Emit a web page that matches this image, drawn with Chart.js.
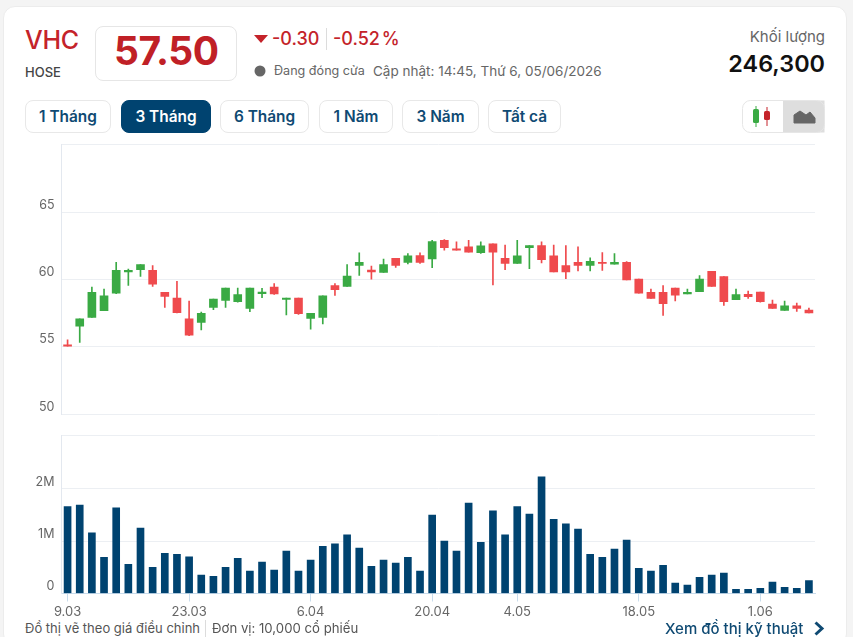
<!DOCTYPE html>
<html lang="vi">
<head>
<meta charset="utf-8">
<title>VHC</title>
<script src="https://cdn.jsdelivr.net/npm/chart.js@4"></script>
<style>
html, body { margin: 0; padding: 0; width: 853px; height: 637px; overflow: hidden; background: #f4f4f4; font-family: Inter, sans-serif; }
.card { position: absolute; left: 3px; top: 6px; width: 844px; height: 640px; background: #fff; border: 1px solid #ececec; border-radius: 12px; box-sizing: border-box; }
.txt { position: absolute; white-space: nowrap; line-height: 1; }
.box { position: absolute; left: 95px; top: 26px; width: 142px; height: 55px; border: 1px solid #e6e6e6; border-radius: 8px; box-sizing: border-box; }
.btn { position: absolute; top: 100px; height: 33px; line-height: 31px; text-align: center; box-sizing: border-box; border: 1px solid #e8e8e8; border-radius: 8px; font-size: 15.4px; font-weight: 600; color: #0f4a73; }
.btn.on { background: #004370; border-color: #004370; color: #fff; }
.sep { position: absolute; background: #dcdcdc; width: 1px; }
canvas { position: absolute; left: 0; display: block; }
</style>
</head>
<body>
<div class="card"></div>

<div class="txt" style="left:25px;top:28px;font-size:25px;font-weight:500;color:#c4232a;letter-spacing:-0.3px">VHC</div>
<div class="txt" style="left:25px;top:66px;font-size:13px;font-weight:500;color:#444">HOSE</div>
<div class="box"></div>
<div class="txt" style="left:114px;top:31px;font-size:39px;font-weight:700;color:#c02026;letter-spacing:-0.4px">57.50</div>

<svg style="position:absolute;left:254px;top:35px" width="14" height="9"><path d="M0 0H14L7 8Z" fill="#c4232a"/></svg>
<div class="txt" style="left:272px;top:30px;font-size:18px;font-weight:500;color:#c4232a">-0.30</div>
<div class="sep" style="left:326px;top:28px;height:22px"></div>
<div class="txt" style="left:333px;top:30px;font-size:18px;font-weight:500;color:#c4232a;word-spacing:-3px">-0.52 %</div>

<svg style="position:absolute;left:254px;top:65px" width="12" height="12"><circle cx="6" cy="6" r="5.5" fill="#666"/></svg>
<div class="txt" style="left:274px;top:65px;font-size:12.6px;color:#666">Đang đóng cửa</div>
<div class="txt" style="left:373px;top:65px;font-size:13.5px;color:#666">Cập nhật: 14:45, Thứ 6, 05/06/2026</div>

<div class="txt" style="right:28px;top:29px;font-size:15px;color:#666">Khối lượng</div>
<div class="txt" style="right:28px;top:52px;font-size:23.4px;font-weight:600;color:#111">246,300</div>

<div class="btn" style="left:25px;width:86px">1 Tháng</div>
<div class="btn on" style="left:121px;width:90px">3 Tháng</div>
<div class="btn" style="left:220px;width:89px">6 Tháng</div>
<div class="btn" style="left:319px;width:74px">1 Năm</div>
<div class="btn" style="left:402px;width:77px">3 Năm</div>
<div class="btn" style="left:488px;width:73px">Tất cả</div>

<svg style="position:absolute;left:742px;top:100px" width="83" height="33">
  <rect x="41" y="0.5" width="41.5" height="32" fill="#dedede"/>
  <rect x="0.5" y="0.5" width="82" height="32" rx="8" fill="none" stroke="#e6e6e6"/>
  <path d="M14 6V27" stroke="#3aaa44"/><rect x="11" y="9" width="6" height="14" rx="1.5" fill="#3aaa44"/>
  <path d="M25 7V26" stroke="#c4232a"/><rect x="22" y="11" width="6" height="9" rx="1.5" fill="#c4232a"/>
  <path d="M52 23V15L58 11L64 15L68 12L73 18V23Z" fill="#666" stroke="#666" stroke-linejoin="round"/>
</svg>

<canvas id="priceChart" width="853" height="290" style="top:130px"></canvas>
<canvas id="volChart" width="853" height="195" style="top:425px"></canvas>

<div class="txt" style="left:25px;top:622px;font-size:13px;color:#555">Đồ thị vẽ theo giá điều chỉnh</div>
<div class="sep" style="left:205px;top:620px;height:17px"></div>
<div class="txt" style="left:212px;top:622px;font-size:13.2px;color:#555">Đơn vị: 10,000 cổ phiếu</div>
<div class="txt" style="left:665px;top:621px;font-size:15px;font-weight:500;color:#0f4a73">Xem đồ thị kỹ thuật</div>
<svg style="position:absolute;left:813px;top:621px" width="12" height="15"><path d="M2.5 1.5L9 7.5L2.5 13.5" fill="none" stroke="#0f4a73" stroke-width="3"/></svg>

<script>
// Ngày giao dịch
var dates = ['9.03','10.03','11.03','12.03','13.03','16.03','17.03','18.03','19.03','20.03',
    '23.03','24.03','25.03','26.03','27.03','30.03','31.03','1.04','2.04','3.04',
    '6.04','7.04','8.04','9.04','10.04','13.04','14.04','15.04','16.04','17.04',
    '20.04','21.04','22.04','23.04','24.04','28.04','29.04','4.05','5.05','6.05',
    '7.05','8.05','11.05','12.05','13.05','14.05','15.05','18.05','19.05','20.05',
    '21.05','22.05','25.05','26.05','27.05','28.05','29.05','1.06','2.06','3.06',
    '4.06','5.06'];
var xTickLabels = ['9.03','23.03','6.04','20.04','4.05','18.05','1.06'];

var opens = [55.14,56.53,57.17,57.67,58.98,60.55,60.72,60.67,59.03,58.61,
    57.07,56.80,57.92,58.44,58.34,57.84,58.93,59.43,58.51,58.61,
    57.10,57.17,59.53,59.48,61.04,60.69,60.52,61.56,61.26,61.76,
    61.51,62.90,62.26,62.41,61.98,62.63,61.56,61.19,62.36,62.50,
    61.74,61.02,61.26,61.04,61.26,61.12,61.26,60.02,59.03,59.03,
    59.36,58.91,59.08,60.60,60.20,58.49,58.88,59.06,58.16,57.69,
    58.04,57.72];
var closes = [55.04,57.07,59.03,58.78,60.67,60.67,61.09,59.65,58.74,57.52,
    55.86,57.47,58.54,59.36,58.86,59.36,59.06,58.91,58.61,57.45,
    57.47,58.78,59.23,60.25,61.26,60.55,61.09,61.04,61.74,61.26,
    62.80,62.36,62.16,62.01,62.48,62.01,61.19,61.74,62.50,61.46,
    60.55,60.55,61.04,61.34,61.19,61.26,59.95,58.98,58.59,58.19,
    58.83,59.03,60.02,59.48,58.34,58.86,58.71,58.34,57.84,58.04,
    57.84,57.50];
var highs = [55.51,57.07,59.43,59.28,61.26,60.77,61.09,61.02,59.03,59.85,
    58.39,57.57,58.54,59.36,59.36,59.36,59.33,59.68,58.61,58.61,
    57.47,58.78,59.68,61.09,61.96,60.99,61.51,61.56,61.91,61.96,
    62.90,62.95,62.78,62.90,62.78,62.63,62.55,62.90,62.50,62.78,
    62.55,62.50,62.41,61.59,61.98,61.91,61.31,60.02,59.28,59.53,
    59.36,59.28,60.27,60.60,60.20,59.28,59.13,59.06,58.46,58.39,
    58.24,57.87];
var lows = [55.04,55.31,57.17,57.67,58.93,59.55,60.22,59.48,57.92,57.50,
    55.81,56.25,57.74,57.92,58.31,57.59,58.64,58.88,57.35,57.40,
    56.30,56.68,58.81,59.48,60.30,60.02,60.52,60.89,61.14,61.19,
    60.87,62.16,62.16,62.01,61.93,59.58,60.72,61.19,60.79,61.22,
    60.55,60.05,60.62,60.62,60.67,61.12,59.95,58.98,58.59,57.32,
    58.39,58.91,59.08,59.48,58.07,58.49,58.59,58.31,57.84,57.69,
    57.62,57.50];

// Khối lượng, triệu cổ phiếu
var volumes = [1.66,1.69,1.16,0.69,1.64,0.56,1.25,0.50,0.77,0.75,
    0.70,0.35,0.33,0.50,0.67,0.43,0.60,0.45,0.81,0.43,
    0.64,0.90,0.95,1.12,0.87,0.52,0.64,0.58,0.69,0.43,
    1.50,1.00,0.81,1.73,0.98,1.58,1.12,1.66,1.52,2.23,
    1.42,1.33,1.23,0.75,0.69,0.85,1.02,0.48,0.43,0.54,
    0.20,0.16,0.31,0.35,0.39,0.08,0.08,0.10,0.22,0.12,
    0.10,0.246];

var priceTicks = [50, 55, 60, 65, 70.05];
var priceLabels = ['50', '55', '60', '65', ''];
var volTicks = [0, 1, 2, 3.03];
var volLabels = ['0', '1M', '2M', ''];

var GREEN = '#3aaa44';
var RED = '#ef4a4d';
var GRID = '#eceff3';
var AXIS_BLUE = '#c9dcec';
var TICK_FONT = { family: 'Inter, sans-serif', size: 12.5 };

function candleColor(ctx) {
    return closes[ctx.dataIndex] >= opens[ctx.dataIndex] ? GREEN : RED;
}

function pairs(a, b) {
    return a.map(function (v, i) { return [v, b[i]]; });
}

function setYTicks(values) {
    return function (scale) {
        scale.ticks = values.map(function (v) { return { value: v }; });
    };
}

function yAxis(min, max, values, labels) {
    return {
        position: 'left',
        min: min,
        max: max,
        afterBuildTicks: setYTicks(values),
        afterFit: function (scale) {
            scale.width = 61.5;
            scale.paddingTop = 0;
            scale.paddingBottom = 0;
        },
        grid: { color: GRID, drawTicks: false },
        border: { color: '#e3e8ef' },
        ticks: {
            color: '#666',
            font: TICK_FONT,
            padding: 7,
            labelOffset: -7,
            callback: function (v) { return labels[values.indexOf(v)]; }
        }
    };
}

new Chart(document.getElementById('priceChart'), {
    type: 'bar',
    data: {
        labels: dates,
        datasets: [
            { data: pairs(opens, closes), grouped: false, barThickness: 8, backgroundColor: candleColor },
            { data: pairs(lows, highs), grouped: false, barThickness: 1, backgroundColor: candleColor }
        ]
    },
    options: {
        responsive: false,
        animation: false,
        layout: { padding: { top: 14, right: 38, bottom: 6 } },
        plugins: { legend: { display: false } },
        scales: {
            x: { display: false },
            y: yAxis(50, 70.05, priceTicks, priceLabels)
        }
    }
});

new Chart(document.getElementById('volChart'), {
    type: 'bar',
    data: {
        labels: dates,
        datasets: [{ data: volumes, barThickness: 7, backgroundColor: '#004370' }]
    },
    options: {
        responsive: false,
        animation: false,
        layout: { padding: { top: 10, right: 38 } },
        plugins: { legend: { display: false } },
        scales: {
            x: {
                afterFit: function (scale) {
                    scale.height = 26.5;
                    scale.paddingLeft = 0;
                    scale.paddingRight = 0;
                },
                grid: {
                    offset: false,
                    drawOnChartArea: false,
                    tickLength: 8,
                    tickColor: function (ctx) { return ctx.tick && ctx.tick.label ? AXIS_BLUE : 'transparent'; }
                },
                border: { color: AXIS_BLUE },
                ticks: {
                    color: '#666',
                    font: { family: 'Inter, sans-serif', size: 13 },
                    autoSkip: false,
                    maxRotation: 0,
                    padding: 3,
                    callback: function (v) {
                        var label = this.getLabelForValue(v);
                        return xTickLabels.indexOf(label) >= 0 ? label : '';
                    }
                }
            },
            y: yAxis(0, 3.03, volTicks, volLabels)
        }
    }
});
</script>
</body>
</html>
